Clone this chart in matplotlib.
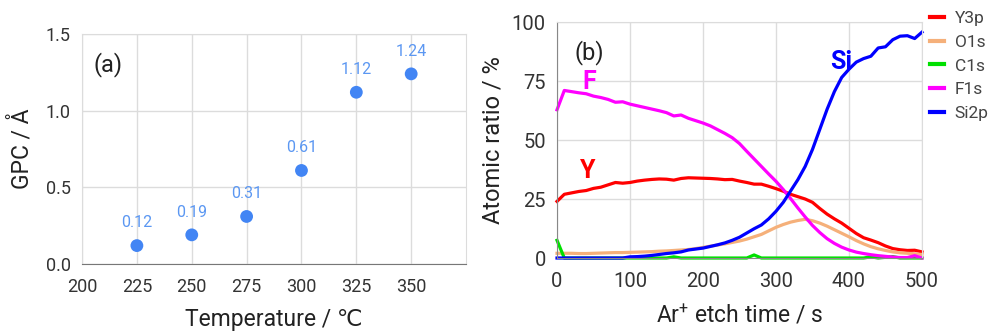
import matplotlib
matplotlib.use("Agg")
import matplotlib.pyplot as plt
from matplotlib.lines import Line2D

plt.rcParams['font.family'] = ['Roboto', 'DejaVu Sans']

# ---- Panel (a) data ----
temps = [225, 250, 275, 300, 325, 350]
gpc = [0.12, 0.19, 0.31, 0.61, 1.12, 1.24]
gpc_labels = ["0.12", "0.19", "0.31", "0.61", "1.12", "1.24"]
a_xticks = [200, 225, 250, 275, 300, 325, 350]
a_yticks = [0.0, 0.5, 1.0, 1.5]

# ---- Panel (b) data ----
etch_t = [0, 10, 20, 30, 40, 50, 60, 70, 80, 90,
          100, 110, 120, 130, 140, 150, 160, 170, 180, 190,
          200, 210, 220, 230, 240, 250, 260, 270, 280, 290,
          300, 310, 320, 330, 340, 350, 360, 370, 380, 390,
          400, 410, 420, 430, 440, 450, 460, 470, 480, 490, 500]
y3p = [24.0, 27.0, 27.6, 28.2, 28.6, 29.5, 30.0, 31.0, 32.0, 31.7,
       32.0, 32.6, 33.0, 33.3, 33.5, 33.4, 33.0, 33.7, 34.0, 33.9,
       33.8, 33.7, 33.5, 33.2, 33.3, 32.6, 32.0, 31.3, 31.3, 30.4,
       29.4, 28.3, 27.0, 26.0, 25.0, 23.6, 21.0, 18.6, 16.6, 14.8,
       12.6, 10.4, 8.6, 7.6, 6.5, 5.1, 4.0, 3.5, 3.2, 3.3, 2.6]
o1s = [2.0, 2.0, 2.0, 1.9, 1.9, 2.0, 2.1, 2.2, 2.3, 2.3,
       2.4, 2.5, 2.6, 2.7, 2.9, 3.0, 3.2, 3.4, 3.6, 4.0,
       4.5, 5.0, 5.5, 6.0, 6.6, 7.2, 8.0, 9.0, 10.0, 11.5,
       13.0, 14.2, 15.2, 15.9, 16.4, 15.8, 14.8, 13.5, 12.0, 10.5,
       9.0, 7.4, 6.0, 4.8, 3.9, 3.2, 2.6, 2.2, 2.0, 1.8, 1.5]
c1s = [7.5, 0.0, 0.0, 0.0, 0.0, 0.0, 0.0, 0.0, 0.0, 0.0,
       0.0, 0.0, 0.0, 0.0, 0.0, 0.0, 0.5, 0.0, 0.0, 0.0,
       0.0, 0.0, 0.0, 0.0, 0.0, 0.0, 0.0, 1.3, 0.0, 0.0,
       0.0, 0.0, 0.0, 0.0, 0.0, 0.0, 0.0, 0.0, 0.0, 0.0,
       0.0, 0.0, 0.0, 0.5, 0.0, 0.3, 0.6, 0.0, 0.0, 0.0, 0.0]
f1s = [62.8, 71.0, 70.5, 70.0, 69.6, 68.6, 68.0, 67.2, 66.0, 66.2,
       65.2, 64.5, 63.8, 63.1, 62.4, 61.6, 60.2, 60.6, 59.2, 58.2,
       57.2, 56.0, 54.4, 52.8, 51.0, 48.5, 45.2, 42.0, 38.8, 35.6,
       32.5, 29.0, 25.2, 21.2, 17.4, 13.8, 10.8, 8.2, 6.2, 4.6,
       3.4, 2.5, 1.9, 1.4, 1.0, 0.7, 0.4, 0.2, 0.2, 1.0, 0.0]
si2p = [0.0, 0.0, 0.0, 0.0, 0.0, 0.0, 0.0, 0.0, 0.0, 0.0,
        0.5, 0.6, 0.8, 1.1, 1.5, 1.9, 2.2, 2.6, 3.4, 3.8,
        4.2, 4.9, 5.6, 6.4, 7.5, 8.8, 10.6, 12.4, 14.0, 16.6,
        19.8, 23.6, 28.4, 33.2, 38.8, 46.0, 54.5, 63.0, 70.5, 76.5,
        80.0, 83.0, 84.5, 85.5, 89.0, 89.5, 92.5, 94.0, 94.2, 93.0, 95.7]
b_xticks = [0, 100, 200, 300, 400, 500]
b_yticks = [0, 25, 50, 75, 100]

series = [("Y3p", y3p, "#ff0000"),
          ("O1s", o1s, "#f5b07a"),
          ("C1s", c1s, "#00e000"),
          ("F1s", f1s, "#ff00ff"),
          ("Si2p", si2p, "#0000ff")]

fig = plt.figure(figsize=(9.92, 3.34), dpi=100)

grid_c = "#dcdcdc"
tick_c = "#333333"

# ---------- Panel (a) ----------
axa = fig.add_axes([0.0827, 0.2096, 0.3871, 0.6886])
axa.scatter(temps, gpc, s=85, color="#4285f4", zorder=3, edgecolors="none")
for t, v, lab in zip(temps, gpc, gpc_labels):
    axa.annotate(lab, (t, v), xytext=(0, 11), textcoords="offset points",
                 ha="center", va="bottom", fontsize=11.5, color="#5b97f2")
axa.set_xlim(200, 375)
axa.set_ylim(0, 1.5)
axa.set_xticks(a_xticks)
axa.set_yticks(a_yticks)
axa.set_yticklabels(["0.0", "0.5", "1.0", "1.5"])
axa.grid(True, color=grid_c, linewidth=1)
axa.set_axisbelow(True)
for s in ["top", "right", "left"]:
    axa.spines[s].set_color(grid_c)
axa.spines["bottom"].set_color("#777777")
axa.tick_params(length=0, labelsize=13, colors=tick_c, pad=8)
axa.tick_params(axis="x", pad=10)
axa.set_xlabel("Temperature / ℃", fontsize=16.5, color="#222222", labelpad=9)
axa.set_ylabel("GPC / Å", fontsize=16.5, color="#222222", labelpad=9)
axa.text(211.8, 1.30, "(a)", fontsize=17, ha="center", va="center", color="#222222")

# ---------- Panel (b) ----------
axb = fig.add_axes([0.5615, 0.2275, 0.3679, 0.7066])
for name, vals, col in series:
    axb.plot(etch_t, vals, color=col, linewidth=2.3, label=name,
             solid_joinstyle="round", clip_on=False)
axb.set_xlim(0, 500)
axb.set_ylim(0, 100)
axb.set_xticks(b_xticks)
axb.set_yticks(b_yticks)
axb.grid(True, color=grid_c, linewidth=1)
axb.set_axisbelow(True)
for s in ["top", "right"]:
    axb.spines[s].set_color(grid_c)
axb.spines["left"].set_color("#888888")
axb.spines["bottom"].set_color("#888888")
axb.tick_params(length=0, labelsize=14.5, colors=tick_c, pad=8)
axb.tick_params(axis="x", pad=10)
axb.set_xlabel(r"Ar$^{\mathregular{+}}$ etch time / s", fontsize=16.5, color="#222222", labelpad=9)
axb.set_ylabel("Atomic ratio / %", fontsize=17, color="#222222", labelpad=5)
axb.text(44, 87, "(b)", fontsize=17, ha="center", va="center", color="#222222")
axb.text(44, 74.6, "F", fontsize=18, fontweight="bold", ha="center", va="center", color="#ff00ff")
axb.text(42, 36.9, "Y", fontsize=18, fontweight="bold", ha="center", va="center", color="#ff0000")
axb.text(389, 83, "Si", fontsize=18, fontweight="bold", ha="center", va="center", color="#0000ff")

leg_handles = [Line2D([0], [0], color=c, linewidth=3) for _, _, c in series]
fig.legend(leg_handles, [n for n, _, _ in series], loc="upper left",
           bbox_to_anchor=(0.938, 0.968), frameon=False, fontsize=12.5,
           handlelength=0.8, handletextpad=0.6, labelspacing=0.5,
           borderaxespad=0, borderpad=0, labelcolor="#444444")

fig.savefig("out.png", dpi=100)
